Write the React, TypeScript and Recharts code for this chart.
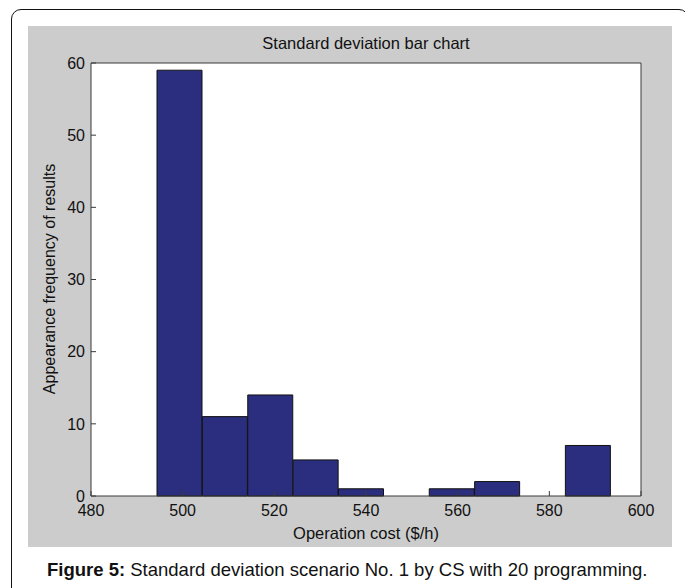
import React from 'react';
import { BarChart, Bar, XAxis, YAxis, CartesianGrid } from 'recharts';

// histogram bin centres ($/h) and counts
const binCenters = [499.35, 509.25, 519.15, 529.05, 538.95, 548.85, 558.75, 568.65, 578.55, 588.45];
const binCounts = [59, 11, 14, 5, 1, 0, 1, 2, 0, 7];
const xTicks = [480, 500, 520, 540, 560, 580, 600];
const yTicks = [0, 10, 20, 30, 40, 50, 60];

const data = binCenters.map((c, i) => ({ center: c, count: binCounts[i] }));

const FONT = '"Liberation Sans", Arial, Helvetica, sans-serif';
const AXIS = '#3a3a3a';
const tickStyle = { fontSize: 16, fill: '#111', fontFamily: FONT };
const noLabel = () => <g />;

const App: React.FC = () => {
  return (
    <div
      style={{
        position: 'relative',
        marginLeft: -8,
        marginTop: -8,
        width: 693,
        height: 588,
        overflow: 'hidden',
        fontFamily: FONT,
        background: '#fff',
      }}
    >
      {/* outer rounded frame */}
      <div
        style={{
          position: 'absolute',
          left: 11,
          top: 9,
          width: 678,
          height: 640,
          border: '1.5px solid #111',
          borderRadius: 10,
          boxSizing: 'border-box',
        }}
      />
      {/* grey figure background */}
      <div style={{ position: 'absolute', left: 28, top: 26, width: 644, height: 521, background: '#cccccc' }} />

      <div style={{ position: 'absolute', left: 28, top: 26 }}>
        <BarChart
          width={644}
          height={521}
          data={data}
          margin={{ top: 36, right: 30, bottom: 1, left: 0 }}
          barCategoryGap={0}
          barGap={0}
        >
          <CartesianGrid fill="#fff" horizontal={false} vertical={false} stroke="none" />
          <XAxis
            dataKey="center"
            type="number"
            domain={[480, 600]}
            ticks={xTicks}
            interval={0}
            allowDataOverflow
            height={50}
            stroke={AXIS}
            tickSize={-5}
            tickMargin={14}
            tick={tickStyle}
          />
          <XAxis
            xAxisId="top"
            orientation="top"
            type="number"
            domain={[480, 600]}
            ticks={xTicks}
            interval={0}
            height={1}
            stroke={AXIS}
            tickSize={-5}
            tick={noLabel}
          />
          <YAxis
            type="number"
            domain={[0, 60]}
            ticks={yTicks}
            interval={0}
            width={63}
            stroke={AXIS}
            tickSize={-5}
            tickMargin={11}
            tick={tickStyle}
          />
          <YAxis
            yAxisId="right"
            orientation="right"
            type="number"
            domain={[0, 60]}
            ticks={yTicks}
            interval={0}
            width={1}
            stroke={AXIS}
            tickSize={-5}
            tick={noLabel}
          />
          <Bar dataKey="count" fill="#2b2e7e" stroke="#111" strokeWidth={1} isAnimationActive={false} />
        </BarChart>
      </div>

      {/* title and axis labels */}
      <div
        style={{
          position: 'absolute',
          left: 91,
          top: 33.5,
          width: 550,
          textAlign: 'center',
          fontSize: 16.5,
          color: '#111',
        }}
      >
        Standard deviation bar chart
      </div>
      <div
        style={{
          position: 'absolute',
          left: 50,
          top: 279,
          transform: 'translate(-50%, -50%) rotate(-90deg)',
          whiteSpace: 'nowrap',
          fontSize: 16,
          color: '#111',
        }}
      >
        Appearance frequency of results
      </div>
      <div
        style={{
          position: 'absolute',
          left: 91,
          top: 523.5,
          width: 550,
          textAlign: 'center',
          fontSize: 16.5,
          color: '#111',
        }}
      >
        Operation cost ($/h)
      </div>

      {/* caption */}
      <div
        style={{
          position: 'absolute',
          left: 47,
          top: 558.5,
          whiteSpace: 'nowrap',
          fontSize: 18.5,
          color: '#111',
        }}
      >
        <b>Figure 5:</b> Standard deviation scenario No. 1 by CS with 20 programming.
      </div>
    </div>
  );
};

export default App;
